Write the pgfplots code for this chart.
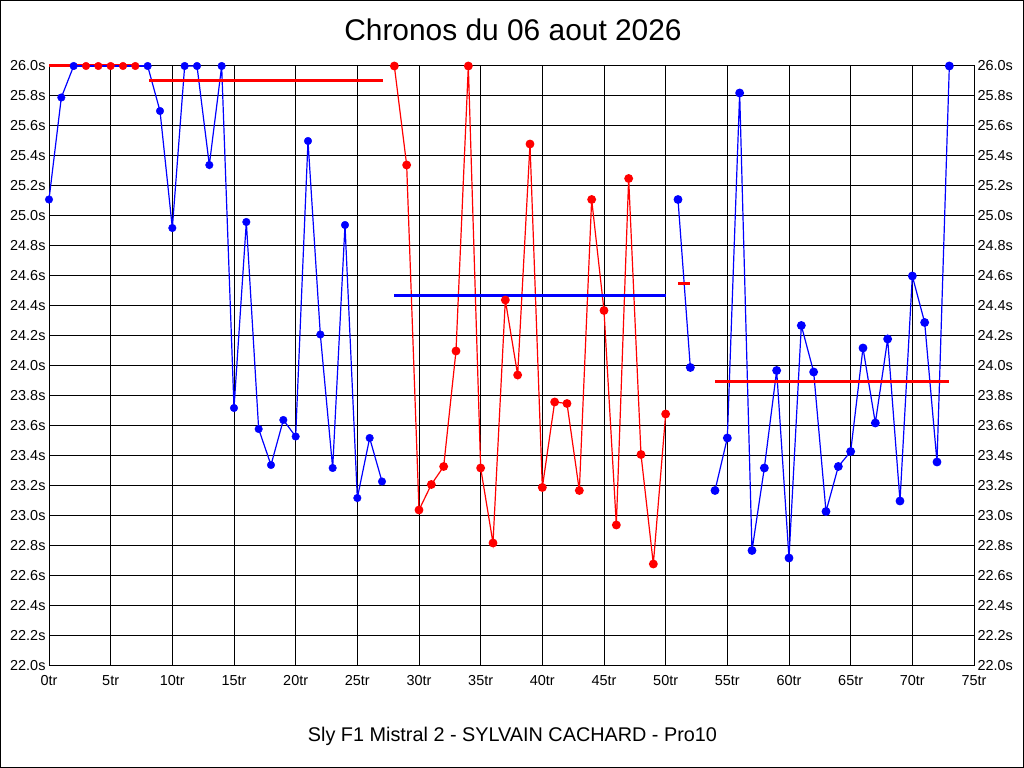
\documentclass[border=0pt]{standalone}
\usepackage{fontspec}
\setmainfont{Liberation Sans}
\usepackage{pgfplots}
\pgfplotsset{compat=1.18}
\definecolor{pblue}{RGB}{0,0,255}
\definecolor{pred}{RGB}{255,0,0}
\begin{document}
\begin{tikzpicture}
\path[use as bounding box] (0,0) rectangle (1024bp,768bp);
\draw[line width=1bp] (0.5bp,0.5bp) rectangle (1023.5bp,767.5bp);
\node[font=\fontsize{30}{32}\selectfont, anchor=base] at (513bp,727.3bp) {Chronos du 06 aout 2026};
\node[font=\fontsize{19.9}{22}\selectfont, anchor=base] at (512.5bp,26.3bp) {Sly F1 Mistral 2 - SYLVAIN CACHARD - Pro10};
\pgfplotsset{
  chrono/.style={
    at={(49bp,102bp)}, anchor=south west, scale only axis,
    width=925bp, height=600bp,
    xmin=0, xmax=75, ymin=22, ymax=26,
    xtick={0,5,10,15,20,25,30,35,40,45,50,55,60,65,70,75},
    ytick={22,22.2,22.4,22.6,22.8,23,23.2,23.4,23.6,23.8,24,24.2,24.4,24.6,24.8,25,25.2,25.4,25.6,25.8,26},
    major tick length=0pt,
    /pgf/number format/assume math mode=true,
    ticklabel style={font=\fontsize{14.5}{15}\selectfont},
    yticklabel={\pgfmathprintnumber[fixed,fixed zerofill,precision=1]{\tick}s},
    xticklabel={\pgfmathprintnumber{\tick}tr},
    xticklabel style={yshift=-6bp},
    axis line style={line width=1bp,black},
    clip=false,
  }
}
\begin{axis}[chrono, grid=major, grid style={line width=1bp, black}]
% average 0-7
\addplot[pred, line width=3bp, forget plot] coordinates {(0,26.0) (7.05,26.0)};
% red marks laps 3-7
\addplot[only marks, mark=*, mark size=3.8bp, mark options={fill=pred, draw=pred}] coordinates {
(3,26.0) (4,26.0) (5,26.0) (6,26.0) (7,26.0)};
% blue line 0-27
\addplot[pblue, line width=1.2bp, no marks] coordinates {
(0,25.11) (1,25.79) (2,26.0) (3,26.0) (4,26.0) (5,26.0) (6,26.0) (7,26.0)
(8,26.0) (9,25.70) (10,24.92) (11,26.0) (12,26.0) (13,25.34) (14,26.0)
(15,23.72) (16,24.96) (17,23.58) (18,23.34) (19,23.64) (20,23.53)
(21,25.50) (22,24.21) (23,23.32) (24,24.94) (25,23.12) (26,23.52) (27,23.23)};
\addplot[pblue, line width=2.5bp, no marks] coordinates {(2,26.0) (8,26.0)};
\addplot[only marks, mark=*, mark size=3.8bp, mark options={fill=pblue, draw=pblue}] coordinates {
(0,25.11) (1,25.79) (2,26.0)
(8,26.0) (9,25.70) (10,24.92) (11,26.0) (12,26.0) (13,25.34) (14,26.0)
(15,23.72) (16,24.96) (17,23.58) (18,23.34) (19,23.64) (20,23.53)
(21,25.50) (22,24.21) (23,23.32) (24,24.94) (25,23.12) (26,23.52) (27,23.23)};
% red series 28-50
\addplot[pred, line width=1.2bp, mark=*, mark size=3.8bp, mark options={fill=pred, draw=pred}] coordinates {
(28,26.0) (29,25.34) (30,23.04) (31,23.21) (32,23.33) (33,24.10) (34,26.0)
(35,23.32) (36,22.82) (37,24.44) (38,23.94) (39,25.48) (40,23.19)
(41,23.76) (42,23.75) (43,23.17) (44,25.11) (45,24.37) (46,22.94)
(47,25.25) (48,23.41) (49,22.68) (50,23.68)};
% blue series 51-52
\addplot[pblue, line width=1.2bp, mark=*, mark size=3.8bp, mark options={fill=pblue, draw=pblue}] coordinates {
(51,25.11) (52,23.99)};
% blue series 54-73
\addplot[pblue, line width=1.2bp, mark=*, mark size=3.8bp, mark options={fill=pblue, draw=pblue}] coordinates {
(54,23.17) (55,23.52) (56,25.82) (57,22.77) (58,23.32) (59,23.97) (60,22.72)
(61,24.27) (62,23.96) (63,23.03) (64,23.33) (65,23.43) (66,24.12) (67,23.62)
(68,24.18) (69,23.10) (70,24.60) (71,24.29) (72,23.36) (73,26.0)};
% averages
\addplot[pred, line width=3bp] coordinates {(8.1,25.905) (27.1,25.905)};
\addplot[pblue, line width=3bp] coordinates {(28,24.467) (50,24.467)};
\addplot[pred, line width=3bp] coordinates {(51,24.55) (52,24.55)};
\addplot[pred, line width=3bp] coordinates {(54,23.898) (73,23.898)};
\end{axis}
\begin{axis}[chrono, axis x line=none, axis y line*=right, yticklabel pos=right]
\addplot[draw=none] coordinates {(0,22) (75,26)};
\end{axis}
\end{tikzpicture}
\end{document}
